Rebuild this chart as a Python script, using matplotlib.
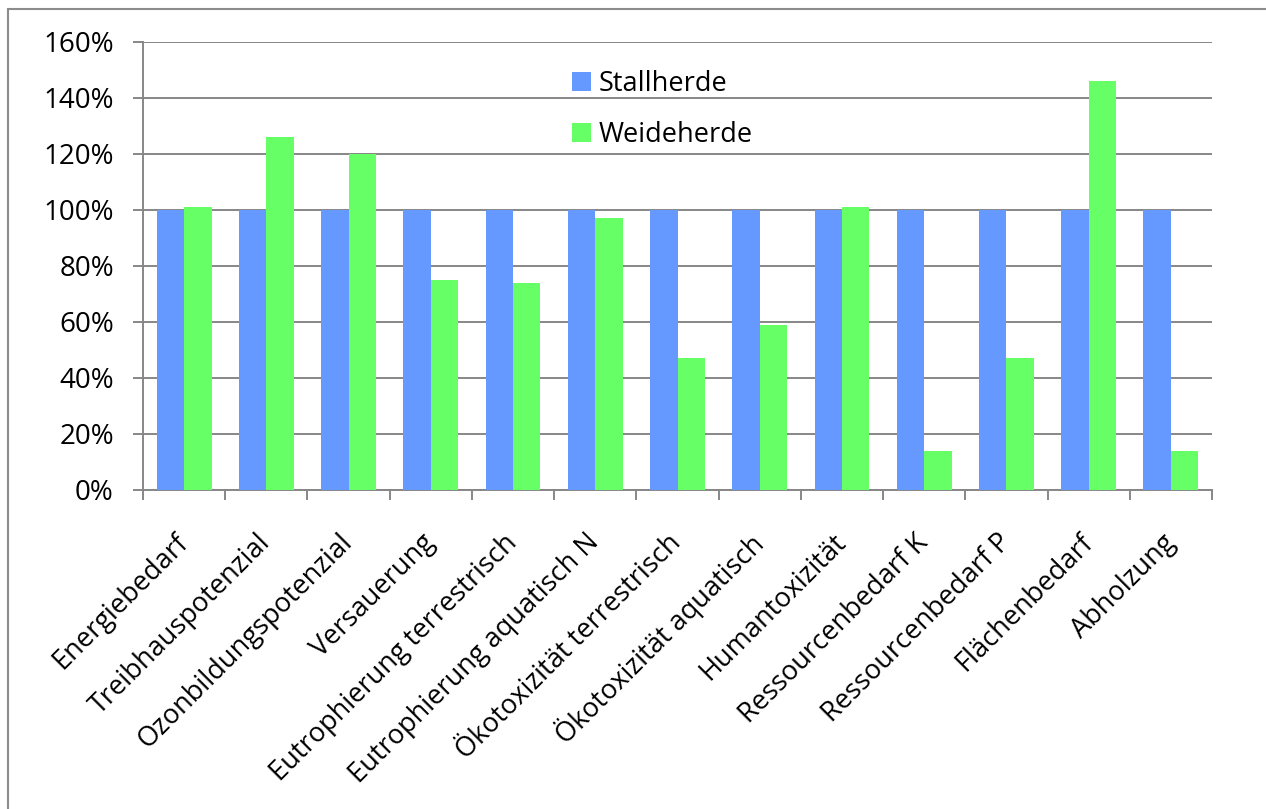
import matplotlib.pyplot as plt
import matplotlib.patches as mpatches
import numpy as np

categories = ['Energiebedarf', 'Treibhauspotenzial', 'Ozonbildungspotenzial',
              'Versauerung', 'Eutrophierung terrestrisch', 'Eutrophierung aquatisch N',
              'Ökotoxizität terrestrisch', 'Ökotoxizität aquatisch', 'Humantoxizität',
              'Ressourcenbedarf K', 'Ressourcenbedarf P', 'Flächenbedarf', 'Abholzung']
stallherde = [100, 100, 100, 100, 100, 100, 100, 100, 100, 100, 100, 100, 100]
weideherde = [101, 126, 120, 75, 74, 97, 47, 59, 101, 14, 47, 146, 14]
yticks = [0, 20, 40, 60, 80, 100, 120, 140, 160]

plt.rcParams['font.family'] = ['Open Sans', 'DejaVu Sans']
grey = '#878787'

fig = plt.figure(figsize=(12.66, 8.09), dpi=100)
ax = fig.add_axes([143 / 1266, 1 - 490 / 809, (1212 - 143) / 1266, (490 - 42) / 809])

# outer chart frame (cut off at right and bottom)
fig.patches.append(mpatches.Rectangle((8 / 1266, -0.1), 1.2, 1 - 9 / 809 + 0.1,
                                      transform=fig.transFigure, fill=False,
                                      edgecolor='#8c8c8c', linewidth=1.5))

ind = np.arange(len(categories))
width = 1 / 3
ax.bar(ind - width / 2, stallherde, width, color='#6699FF', label='Stallherde', zorder=3)
ax.bar(ind + width / 2, weideherde, width, color='#66FF66', label='Weideherde', zorder=3)

ax.set_xlim(-0.5, len(categories) - 0.5)
ax.set_ylim(0, 160)
ax.set_yticks(yticks)
ax.set_yticklabels([f'{v}%' for v in yticks])
ax.yaxis.grid(True, color=grey, linewidth=1.4, zorder=0)

# boundaries between groups carry the tick marks, labels sit at group centres
ax.set_xticks(np.arange(len(categories) + 1) - 0.5)
ax.set_xticklabels([])
ax.set_xticks(ind, minor=True)
ax.set_xticklabels(categories, minor=True, rotation=45, ha='right', va='center',
                   rotation_mode='anchor', fontsize=19.5)
ax.tick_params(axis='x', which='minor', length=0, pad=35)
ax.tick_params(axis='x', which='major', length=7, color=grey, width=1.4)
ax.tick_params(axis='y', length=7, color=grey, width=1.4, labelsize=20, pad=14)

for side in ['top', 'right']:
    ax.spines[side].set_visible(False)
for side in ['left', 'bottom']:
    ax.spines[side].set_color(grey)
    ax.spines[side].set_linewidth(1.4)

leg = ax.legend(loc='upper left', bbox_to_anchor=(561 / 1266, 1 - 59 / 809),
                bbox_transform=fig.transFigure, frameon=False, fontsize=19.5,
                handlelength=0.7, handleheight=0.7, handletextpad=0.3,
                labelspacing=0.85, borderaxespad=0)

fig.savefig('out.png', dpi=100)
